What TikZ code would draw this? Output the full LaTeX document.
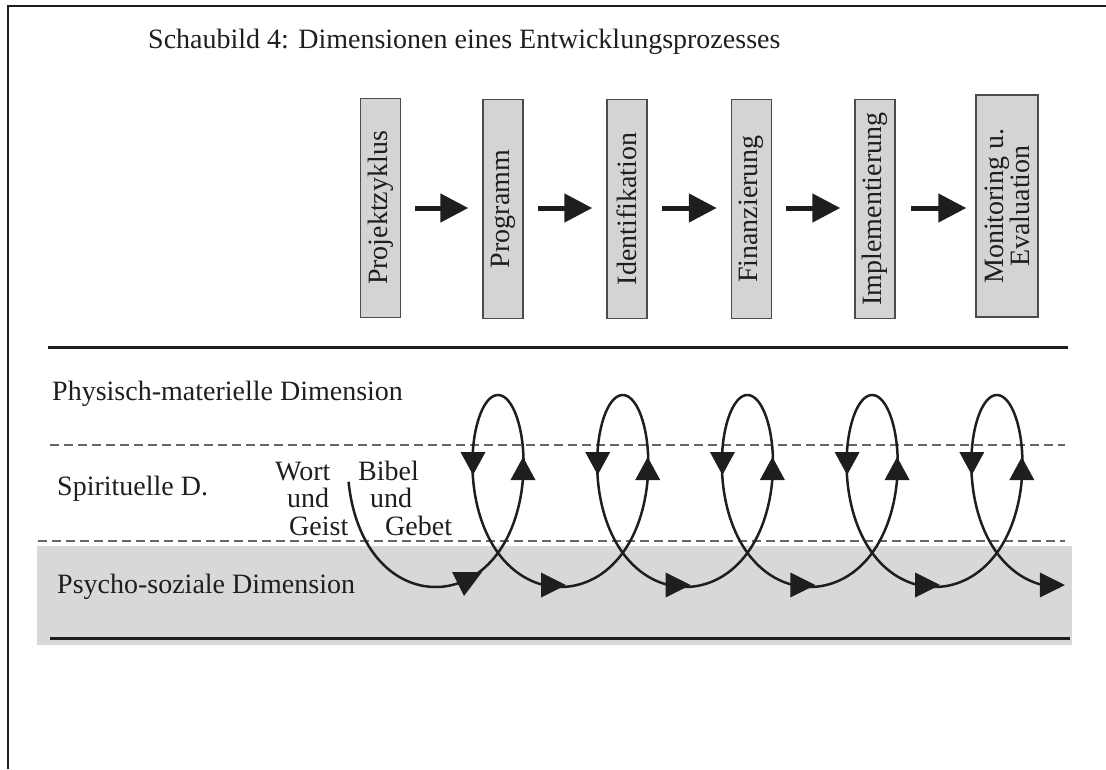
\documentclass[tikz,border=0pt]{standalone}
\usepackage{fontspec}
\setmainfont{Liberation Serif}
\usetikzlibrary{arrows.meta}
\definecolor{boxgray}{HTML}{D4D4D4}
\definecolor{bandgray}{HTML}{D8D8D8}
\definecolor{dashgray}{HTML}{666666}
\definecolor{ink}{HTML}{1E1E1E}
\tikzset{
  txt/.style={font=\fontsize{28}{26}\selectfont, text=ink, inner sep=0pt, anchor=base west},
  stage/.style={draw=ink!80, line width=1.5pt, fill=boxgray, rotate=90,
    minimum width=219pt, minimum height=40pt, inner sep=0pt,
    font=\fontsize{28}{26}\selectfont, text=ink, align=center},
  flow/.style={line width=5pt, draw=ink, -{Triangle[length=28pt,width=28pt]},
    shorten <=14pt, shorten >=14pt},
  rulel/.style={line width=3pt, draw=ink},
  dimline/.style={line width=2pt, draw=dashgray, dash pattern=on 9pt off 5pt},
  spiral/.style={line width=2.5pt, draw=ink},
  tri/.style={fill=ink},
}
\newcommand\triDown[2]{\fill[tri] ({#1-12.5},#2) -- ({#1+12.5},#2) -- ({#1},{#2+23}) -- cycle;}
\newcommand\triUp[2]{\fill[tri] ({#1-12.5},#2) -- ({#1+12.5},#2) -- ({#1},{#2-23}) -- cycle;}
\newcommand\triRight[2]{\fill[tri] ({#1},{#2-12.5}) -- ({#1},{#2+12.5}) -- ({#1+25},{#2}) -- cycle;}
\begin{document}
\begin{tikzpicture}[x=1pt,y=-1pt]
\useasboundingbox (0,0) rectangle (1106,769);
% frame
\draw[line width=2.5pt, draw=ink] (8,769) -- (8,6) -- (1106,6);
% title
\node[txt] (title) at (148,48) {Schaubild 4: Dimensionen eines Entwicklungsprozesses};
% stages
\node[stage] (p1) at (380.5,208) {Projektzyklus};
\node[stage] (p2) at (503,209) {Programm};
\node[stage] (p3) at (627,209) {Identifikation};
\node[stage] (p4) at (751.5,209) {Finanzierung};
\node[stage] (p5) at (875,209) {Implementierung};
\node[stage, minimum height=62pt, minimum width=222pt] (p6) at (1007,206) {Monitoring u.\\Evaluation};
\draw[flow] (p1.south |- 0,208) -- (p2.north |- 0,208);
\draw[flow] (p2.south |- 0,208) -- (p3.north |- 0,208);
\draw[flow] (p3.south |- 0,208) -- (p4.north |- 0,208);
\draw[flow] (p4.south |- 0,208) -- (p5.north |- 0,208);
\draw[flow, shorten <=15pt, shorten >=9pt] (p5.south |- 0,208) -- (p6.north |- 0,208);
% band and rules
\fill[bandgray] (37,546) rectangle (1072,645);
\draw[rulel] (48,347) -- (1068,347);
\draw[dimline] (50,445) -- (1065,445);
\draw[dimline] (38,541) -- (1065,541);
\draw[rulel] (50,638) -- (1070,638);
% dimension labels
\node[txt] (phys) at (52,400) {Physisch-materielle Dimension};
\node[txt] (spir) at (57,495) {Spirituelle D.};
\node[txt] (psy) at (57,593) {Psycho-soziale Dimension};
\node[txt] (wort) at (275,480) {Wort};
\node[txt] (und1) at (287,507) {und};
\node[txt] (geist) at (289,535) {Geist};
\node[txt] (bibel) at (358,480) {Bibel};
\node[txt] (und2) at (370,507) {und};
\node[txt] (gebet) at (385,535) {Gebet};
% spiral
\draw[spiral] plot[domain=-4.909:28.28, samples=600, variable=\t]
  ({498+19.85*\t-53*sin(\t r)}, {500.9-96*cos(\t r)-9.9*cos(\t r)*cos(\t r)});
% markers
\fill[tri] (452,572) -- (482,572) -- (464,596) -- cycle;
\foreach \c in {498,622.7,747.4,872.1,996.8}{
  \triDown{\c-25}{452}
  \triUp{\c+25}{480}
  \triRight{\c+43}{585}
}
\end{tikzpicture}
\end{document}
